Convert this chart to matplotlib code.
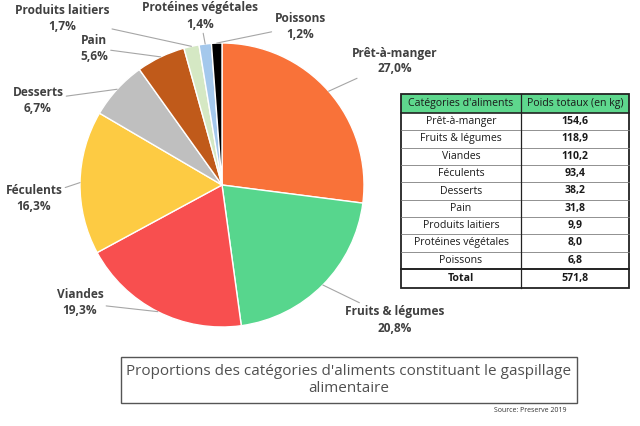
import numpy as np
import matplotlib
matplotlib.use('Agg')
import matplotlib.pyplot as plt
from matplotlib.patches import Rectangle

plt.rcParams['font.family'] = ['Open Sans', 'DejaVu Sans']

# données
categories = ['Prêt-à-manger', 'Fruits & légumes', 'Viandes', 'Féculents', 'Desserts',
              'Pain', 'Produits laitiers', 'Protéines végétales', 'Poissons']
poids = [154.6, 118.9, 110.2, 93.4, 38.2, 31.8, 9.9, 8.0, 6.8]
couleurs = ['#F97239', '#57D68D', '#F84F4F', '#FDCB43', '#BFBFBF',
            '#C05A1A', '#D5E8C4', '#A4C8EC', '#000000']
# position des étiquettes (pixels, origine en haut à gauche)
pos_etiquettes = [(395, 61), (395, 320), (80, 303), (34, 198), (38, 100),
                  (94, 48), (62, 18), (200, 16), (300, 26)]

W, H = 640, 426
fig = plt.figure(figsize=(W / 100, H / 100), dpi=100)
ax = fig.add_axes([0, 0, 1, 1])
ax.set_xlim(0, W)
ax.set_ylim(0, H)
ax.set_aspect('equal')
ax.axis('off')

cx, cy, R = 222, H - 185, 142
wedges, _ = ax.pie(poids, colors=couleurs, startangle=90, counterclock=False,
                   center=(cx, cy), radius=R,
                   wedgeprops=dict(edgecolor='white', linewidth=1))
ax.set_xlim(0, W)
ax.set_ylim(0, H)

total = sum(poids)
txt_col = '#404040'
for w, cat, val, (tx, ty) in zip(wedges, categories, poids, pos_etiquettes):
    a = np.deg2rad((w.theta1 + w.theta2) / 2)
    px, py = cx + 1.0 * R * np.cos(a), cy + 1.0 * R * np.sin(a)
    pct = f"{100 * val / total:.1f}%".replace('.', ',')
    ax.annotate(f"{cat}\n{pct}", xy=(px, py), xytext=(tx, H - ty),
                ha='center', va='center', fontsize=8.6, fontweight='bold',
                color=txt_col, linespacing=1.3,
                arrowprops=dict(arrowstyle='-', color='#A6A6A6', lw=0.8,
                                shrinkA=0, shrinkB=0))

# tableau
x0, x1, x2 = 401, 521, 629
y_top, y_head = 94, 113
row_h = (269 - 113) / 9
y_tot, y_bot = 269, 288
ax.add_patch(Rectangle((x0, H - y_head), x2 - x0, y_head - y_top,
                       facecolor='#5ED78D', edgecolor='none'))
ax.text((x0 + x1) / 2, H - (y_top + y_head) / 2, "Catégories d'aliments",
        ha='center', va='center', fontsize=7.6, color='#1a1a1a')
ax.text((x1 + x2) / 2, H - (y_top + y_head) / 2, "Poids totaux (en kg)",
        ha='center', va='center', fontsize=7.6, color='#1a1a1a')
for i, (cat, val) in enumerate(zip(categories, poids)):
    yc = y_head + (i + 0.5) * row_h
    ax.text((x0 + x1) / 2, H - yc, cat, ha='center', va='center',
            fontsize=7.6, color='#1a1a1a')
    ax.text((x1 + x2) / 2, H - yc, f"{val:.1f}".replace('.', ','),
            ha='center', va='center', fontsize=7.6, fontweight='bold', color='#1a1a1a')
    if i > 0:
        yl = y_head + i * row_h
        ax.plot([x0, x2], [H - yl, H - yl], color='#7f7f7f', lw=0.6)
ax.text((x0 + x1) / 2, H - (y_tot + y_bot) / 2, "Total", ha='center', va='center',
        fontsize=7.6, fontweight='bold', color='#1a1a1a')
ax.text((x1 + x2) / 2, H - (y_tot + y_bot) / 2, f"{total:.1f}".replace('.', ','),
        ha='center', va='center', fontsize=7.6, fontweight='bold', color='#1a1a1a')
ax.plot([x0, x2], [H - y_head, H - y_head], color='#222222', lw=1.2)
ax.plot([x0, x2], [H - y_tot, H - y_tot], color='#222222', lw=1.4)
ax.plot([x1, x1], [H - y_top, H - y_bot], color='#222222', lw=0.9)
ax.add_patch(Rectangle((x0, H - y_bot), x2 - x0, y_bot - y_top,
                       facecolor='none', edgecolor='#222222', lw=1.3))

# titre encadré
ax.add_patch(Rectangle((121, H - 403), 577 - 121, 403 - 357,
                       facecolor='white', edgecolor='#555555', lw=1))
ax.text((121 + 577) / 2, H - 380,
        "Proportions des catégories d'aliments constituant le gaspillage\nalimentaire",
        ha='center', va='center', fontsize=11, color='#505050', linespacing=1.2)
ax.text(567, H - 411, "Source: Preserve 2019", ha='right', va='center',
        fontsize=5, color='#333333')

fig.savefig('out.png', dpi=100)
